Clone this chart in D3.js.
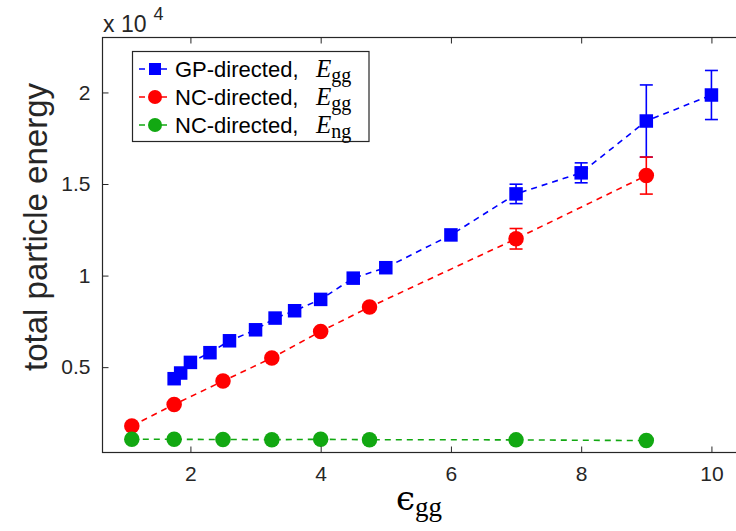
<!DOCTYPE html>
<html>
<head>
<meta charset="utf-8">
<script src="https://cdn.jsdelivr.net/npm/d3@7"></script>
<style>
  body { margin: 0; background: #fff; }
  svg { display: block; font-family: "Liberation Sans", Arial, sans-serif; }
</style>
</head>
<body>
<svg id="chart" width="736" height="531"></svg>
<script>
// values (energies in absolute units, axis shows x 10^4)
const gpX   = [1.75, 1.85, 2.0, 2.3, 2.6, 3.0, 3.3, 3.6, 4.0, 4.5, 5.0, 6.0, 7.0, 8.0, 9.0, 10.0];
const gpY   = [4370, 4680, 5260, 5790, 6440, 7040, 7680, 8080, 8700, 9860, 10430, 12220, 14460, 15610, 18440, 19860];
const gpErr = [0, 0, 0, 0, 0, 0, 0, 0, 0, 0, 0, 0, 530, 545, 1970, 1340];

const ncX   = [1.1, 1.75, 2.5, 3.25, 4.0, 4.75, 7.0, 9.0];
const ncY   = [1790, 2960, 4240, 5500, 6950, 8280, 12010, 15460];
const ncErr = [0, 0, 0, 0, 0, 0, 560, 1010];

const ngX   = [1.1, 1.75, 2.5, 3.25, 4.0, 4.75, 7.0, 9.0];
const ngY   = [1060, 1060, 1050, 1040, 1060, 1040, 1030, 990];

const xTicks = [2, 4, 6, 8, 10];
const yTicks = [5000, 10000, 15000, 20000];

const svg = d3.select("#chart");
const mLeft = 102.5, mRight = 744, mTop = 37.5, mBottom = 452.5;

const x = d3.scaleLinear().domain([0.65, 10.5]).range([mLeft, mRight]);
const y = d3.scaleLinear().domain([340, 23000]).range([mBottom, mTop]);

const axisColor = "#262626";

/* series */
const series = [
  {xs: gpX, ys: gpY, err: gpErr, color: "#0000ff", shape: "square", size: 13.5},
  {xs: ncX, ys: ncY, err: ncErr, color: "#ff0000", shape: "circle", size: 15.5},
  {xs: ngX, ys: ngY, err: null,  color: "#12a812", shape: "circle", size: 15.5}
];

const plot = svg.append("g");

function drawMarker(g, shape, size, color, cx, cy) {
  if (shape === "square") {
    g.append("rect")
      .attr("x", cx - size/2).attr("y", cy - size/2)
      .attr("width", size).attr("height", size)
      .attr("fill", color);
  } else {
    g.append("circle")
      .attr("cx", cx).attr("cy", cy).attr("r", size/2)
      .attr("fill", color);
  }
}

series.forEach(s => {
  const g = plot.append("g");
  const pts = s.xs.map((v, i) => [v, s.ys[i]]);
  g.append("path")
    .datum(pts)
    .attr("fill", "none")
    .attr("stroke", s.color)
    .attr("stroke-width", 1.6)
    .attr("stroke-dasharray", "6,5")
    .attr("d", d3.line().x(d => x(d[0])).y(d => y(d[1])));

  if (s.err) {
    s.xs.forEach((v, i) => {
      const e = s.err[i];
      if (!e) return;
      const cx = x(v), y0 = y(s.ys[i] - e), y1 = y(s.ys[i] + e);
      g.append("line").attr("x1", cx).attr("x2", cx).attr("y1", y0).attr("y2", y1)
        .attr("stroke", s.color).attr("stroke-width", 1.6);
      [y0, y1].forEach(yy => {
        g.append("line").attr("x1", cx - 6.5).attr("x2", cx + 6.5).attr("y1", yy).attr("y2", yy)
          .attr("stroke", s.color).attr("stroke-width", 1.6);
      });
    });
  }
  s.xs.forEach((v, i) => drawMarker(g, s.shape, s.size, s.color, x(v), y(s.ys[i])));
});

/* axes box */
const axX = d3.axisBottom(x).tickValues(xTicks).tickSize(-6).tickPadding(14).tickFormat(d3.format("d"));
const axXTop = d3.axisTop(x).tickValues(xTicks).tickSize(-6).tickFormat("");
const axY = d3.axisLeft(y).tickValues(yTicks).tickSize(-6).tickPadding(12).tickFormat(d => d / 10000);

function styleAxis(g) {
  g.select(".domain").remove();
  g.selectAll(".tick line").attr("stroke", axisColor).attr("stroke-width", 1);
  g.selectAll(".tick text").attr("fill", axisColor)
    .style("font-family", "'Liberation Sans', Arial, sans-serif").style("font-size", "21px");
}

svg.append("g").attr("transform", `translate(0,${mBottom})`).call(axX).call(styleAxis);
svg.append("g").attr("transform", `translate(0,${mTop})`).call(axXTop).call(styleAxis);
svg.append("g").attr("transform", `translate(${mLeft},0)`).call(axY).call(styleAxis);

svg.append("rect")
  .attr("x", mLeft).attr("y", mTop)
  .attr("width", mRight - mLeft).attr("height", mBottom - mTop)
  .attr("fill", "none").attr("stroke", axisColor).attr("stroke-width", 1.2);

/* exponent label */
const expo = svg.append("text").attr("x", 103).attr("y", 32)
  .attr("fill", axisColor).style("font-size", "23px");
expo.append("tspan").text("x 10");
expo.append("tspan").attr("dx", 7).attr("dy", -12).style("font-size", "18px").text("4");

/* y label */
svg.append("text")
  .attr("transform", `translate(47,${(mTop + mBottom) / 2 - 18}) rotate(-90)`)
  .attr("text-anchor", "middle")
  .attr("fill", axisColor)
  .style("font-size", "33px")
  .text("total particle energy");

/* x label */
const xl = svg.append("text").attr("x", 396).attr("y", 510)
  .attr("fill", "#000").style("font-family", "'DejaVu Serif', serif");
xl.append("tspan").style("font-size", "34px").text("ϵ");
xl.append("tspan").attr("dy", 6).style("font-family", "'Liberation Serif', serif")
  .style("font-size", "27px").text("gg");

/* legend */
const lg = svg.append("g");
lg.append("rect").attr("x", 132.5).attr("y", 51.5).attr("width", 236.5).attr("height", 90)
  .attr("fill", "#fff").attr("stroke", axisColor).attr("stroke-width", 1.2);

const legendLabels = ["GP-directed, ", "NC-directed, ", "NC-directed, "];
const legendSubs = ["gg", "gg", "ng"];
series.forEach((s, i) => {
  const cy = 69 + i * 28;
  lg.append("line").attr("x1", 139).attr("x2", 171).attr("y1", cy).attr("y2", cy)
    .attr("stroke", s.color).attr("stroke-width", 1.6).attr("stroke-dasharray", "6,5");
  drawMarker(lg, s.shape, s.shape === "square" ? 12 : 14, s.color, 155, cy);
  const t = lg.append("text").attr("x", 175).attr("y", cy + 7.5).attr("fill", "#000")
    .style("font-size", "22px");
  t.append("tspan").text(legendLabels[i]);
  t.append("tspan").attr("x", 316).style("font-family", "'Liberation Serif', serif")
    .style("font-style", "italic").style("font-size", "25px").text("E");
  t.append("tspan").attr("dy", 5).style("font-family", "'Liberation Serif', serif")
    .style("font-size", "20px").text(legendSubs[i]);
});
</script>
</body>
</html>
